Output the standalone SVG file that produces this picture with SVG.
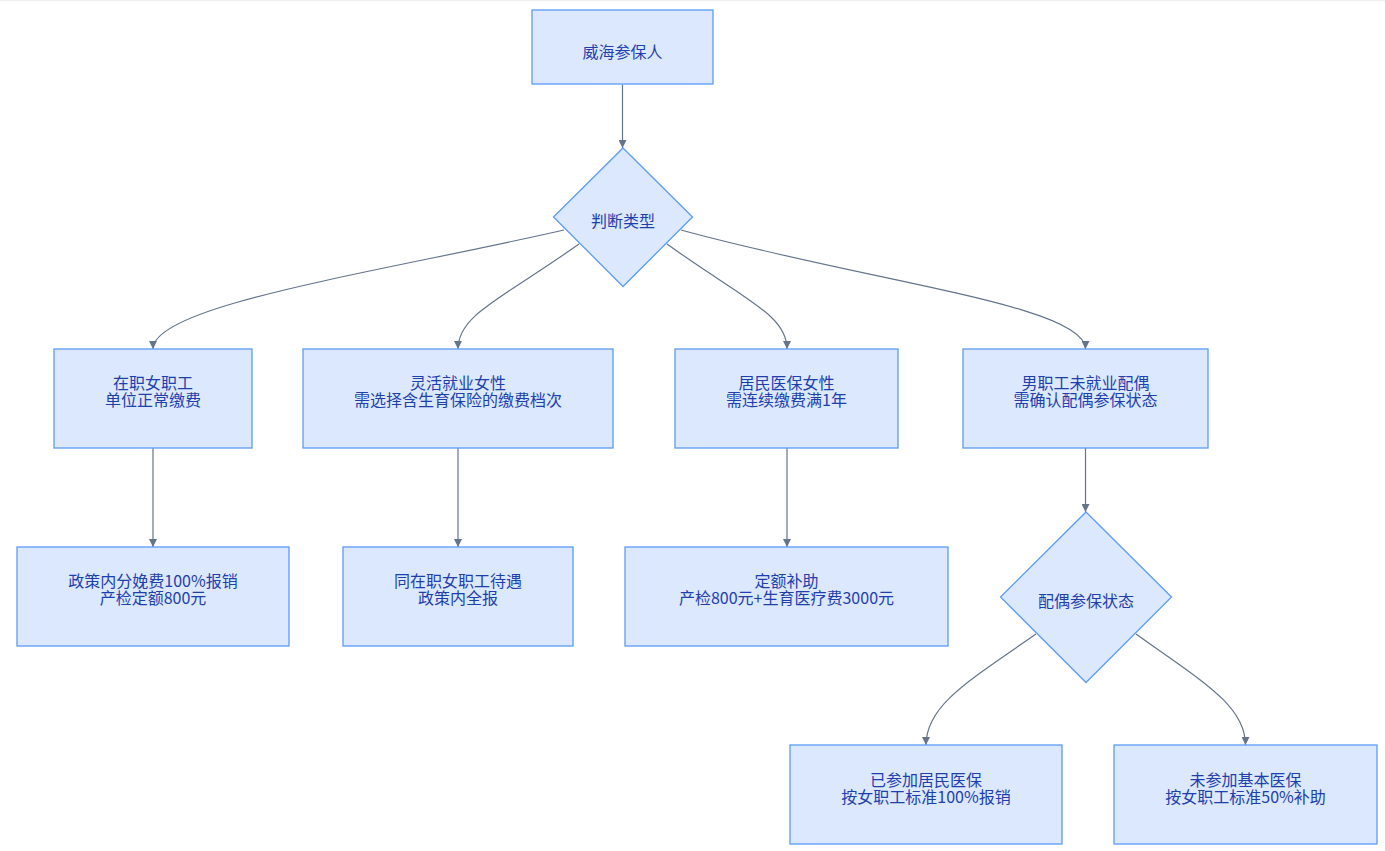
<svg xmlns="http://www.w3.org/2000/svg" width="1385" height="851" viewBox="0 0 1385 851">
<style>
.n{fill:#dbe8fe;stroke:#5b9cf6;stroke-width:1.3}
.t{font-family:"Noto Sans CJK SC","Noto Sans",sans-serif;font-size:16px;fill:#1e40af;text-anchor:middle}
.e{fill:none;stroke:#64748b;stroke-width:1.2}
</style>
<defs>
<marker id="ah" viewBox="0 0 10 10" refX="10" refY="5" markerWidth="8" markerHeight="8" markerUnits="userSpaceOnUse" orient="auto">
<path d="M0,0 L10,5 L0,10 z" fill="#64748b"/>
</marker>
</defs>
<rect width="1385" height="851" fill="#ffffff"/>
<line x1="0" y1="0.5" x2="1385" y2="0.5" stroke="#f0f0f0" stroke-width="1.5"/>
<g id="edges">
<path class="e" d="M622.5,84.5 L622.5,148" marker-end="url(#ah)"/>
<path class="e" d="M564,230 C380,272 153,305 153,349" marker-end="url(#ah)"/>
<path class="e" d="M579,244 C500,300 458,315 458,349" marker-end="url(#ah)"/>
<path class="e" d="M667,244 C745,300 787,315 787,349" marker-end="url(#ah)"/>
<path class="e" d="M681,230 C870,282 1085.5,305 1085.5,349" marker-end="url(#ah)"/>
<path class="e" d="M153,448 L153,547" marker-end="url(#ah)"/>
<path class="e" d="M458,448 L458,547" marker-end="url(#ah)"/>
<path class="e" d="M787,448 L787,547" marker-end="url(#ah)"/>
<path class="e" d="M1085.5,448 L1085.5,512" marker-end="url(#ah)"/>
<path class="e" d="M1036,634 C970,680 926,705 926,745" marker-end="url(#ah)"/>
<path class="e" d="M1136,634 C1200,680 1245.5,705 1245.5,745" marker-end="url(#ah)"/>
</g>
<g id="n_start"><rect class="n" x="532" y="10" width="181" height="74"/><text class="t" x="622.5" y="58">威海参保人</text></g>
<g id="n_judge"><polygon class="n" points="623,148 692.5,217 623,286.5 553.5,217"/><text class="t" x="623" y="227">判断类型</text></g>
<g id="n_a"><rect class="n" x="54" y="349" width="198" height="99"/><text class="t" x="153" y="389">在职女职工</text><text class="t" x="153" y="406">单位正常缴费</text></g>
<g id="n_b"><rect class="n" x="303" y="349" width="310" height="99"/><text class="t" x="458" y="389">灵活就业女性</text><text class="t" x="458" y="406">需选择含生育保险的缴费档次</text></g>
<g id="n_c"><rect class="n" x="675" y="349" width="223" height="99"/><text class="t" x="786.5" y="389">居民医保女性</text><text class="t" x="786.5" y="406">需连续缴费满1年</text></g>
<g id="n_d"><rect class="n" x="963" y="349" width="245" height="99"/><text class="t" x="1085.5" y="389">男职工未就业配偶</text><text class="t" x="1085.5" y="406">需确认配偶参保状态</text></g>
<g id="n_a2"><rect class="n" x="17" y="547" width="272" height="99"/><text class="t" x="153" y="587">政策内分娩费100%报销</text><text class="t" x="153" y="604">产检定额800元</text></g>
<g id="n_b2"><rect class="n" x="343" y="547" width="230" height="99"/><text class="t" x="458" y="587">同在职女职工待遇</text><text class="t" x="458" y="604">政策内全报</text></g>
<g id="n_c2"><rect class="n" x="625" y="547" width="323" height="99"/><text class="t" x="786.5" y="587">定额补助</text><text class="t" x="786.5" y="604">产检800元+生育医疗费3000元</text></g>
<g id="n_spouse"><polygon class="n" points="1086,512 1171.5,597 1086,682.5 1000.5,597"/><text class="t" x="1086" y="607">配偶参保状态</text></g>
<g id="n_e"><rect class="n" x="790" y="745" width="272" height="99"/><text class="t" x="926" y="786">已参加居民医保</text><text class="t" x="926" y="803">按女职工标准100%报销</text></g>
<g id="n_f"><rect class="n" x="1114" y="745" width="263" height="99"/><text class="t" x="1245.5" y="786">未参加基本医保</text><text class="t" x="1245.5" y="803">按女职工标准50%补助</text></g>
</svg>
